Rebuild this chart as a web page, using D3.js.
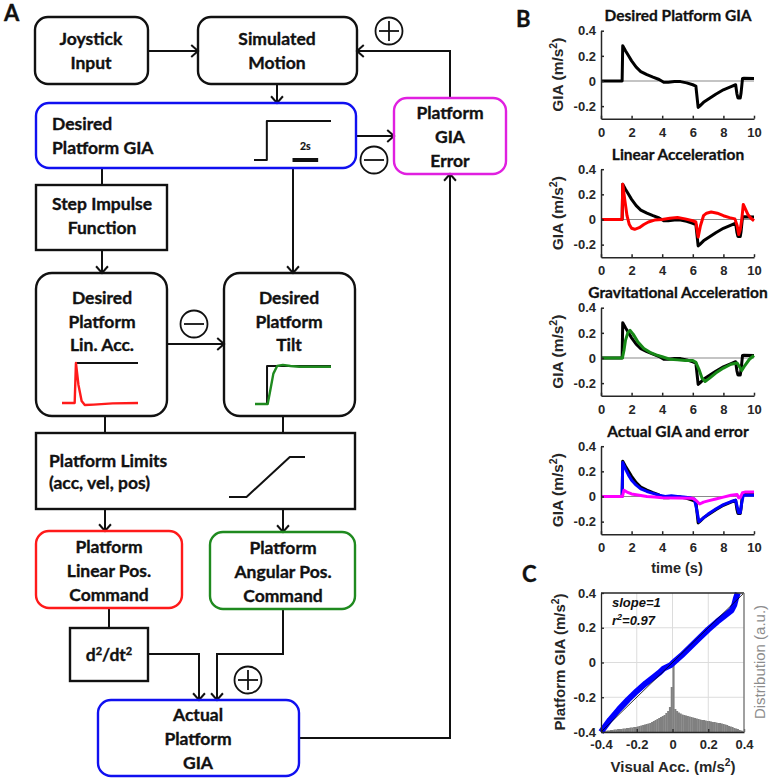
<!DOCTYPE html>
<html><head><meta charset="utf-8">
<script src="https://cdn.jsdelivr.net/npm/d3@7"></script>
<style>body{margin:0;background:#fff}svg{display:block}</style>
</head><body>
<svg id="c" width="771" height="779"></svg>
<script>
// ---------- DATA ----------
// Panel B time series (time in s, GIA in m/s^2)
const desiredT = [0,1.38,1.42,1.6,1.8,2.0,2.3,2.6,3.0,3.4,3.8,4.1,4.4,4.8,5.2,5.6,6.0,6.2,6.35,6.45,6.7,7.0,7.5,8.0,8.5,8.8,8.88,8.95,9.1,9.15,9.25,9.35,10];
const desiredV = [0,0,0.28,0.24,0.20,0.16,0.11,0.075,0.05,0.03,0.012,-0.01,-0.01,-0.005,-0.005,-0.015,-0.03,-0.04,-0.21,-0.2,-0.17,-0.145,-0.105,-0.07,-0.045,-0.03,-0.1,-0.135,-0.135,-0.1,0.02,0.022,0.02];
const linAccT = [0,1.38,1.42,1.55,1.7,1.85,2.0,2.2,2.5,2.8,3.1,3.5,4.0,4.5,5.0,5.5,6.0,6.2,6.35,6.5,6.7,6.9,7.2,7.6,8.0,8.4,8.75,8.9,9.0,9.1,9.2,9.3,9.45,9.6,9.8,10];
const linAccV = [0,0,0.28,0.16,0.03,-0.04,-0.07,-0.078,-0.065,-0.04,-0.02,-0.005,0,0.01,0.015,0.005,-0.01,-0.02,-0.14,-0.05,0.03,0.05,0.06,0.05,0.03,0.015,0.005,-0.05,-0.12,-0.08,0.0,0.12,0.08,0.04,0.01,-0.01];
const gravT = [0,1.4,1.5,1.6,1.75,1.9,2.1,2.4,2.8,3.2,3.6,4.0,4.5,5.0,5.5,6.0,6.2,6.4,6.6,6.8,7.1,7.5,8.0,8.5,8.9,9.05,9.2,9.4,9.7,10];
const gravV = [0,0,0.06,0.14,0.2,0.22,0.19,0.13,0.075,0.045,0.025,0.01,-0.01,-0.015,-0.02,-0.02,-0.035,-0.09,-0.16,-0.187,-0.16,-0.12,-0.08,-0.05,-0.04,-0.07,-0.1,-0.06,-0.01,0.02];
const actualT = [0,1.38,1.42,1.6,1.8,2.0,2.3,2.6,3.0,3.4,3.8,4.2,4.6,5.0,5.4,5.8,6.1,6.25,6.4,6.6,7.0,7.5,8.0,8.5,8.8,8.9,9.0,9.1,9.2,9.3,9.5,10];
const actualV = [0,0,0.27,0.22,0.17,0.13,0.09,0.06,0.04,0.025,0.01,0.0,0.005,0.0,-0.005,-0.01,-0.02,-0.1,-0.2,-0.18,-0.14,-0.1,-0.065,-0.04,-0.03,-0.08,-0.13,-0.13,-0.05,0.01,0.01,0.01];
const errorT = [0,1.4,1.5,1.7,2.0,2.5,3.0,3.5,4.0,5.0,6.0,6.2,6.45,6.7,7.0,7.5,8.0,8.5,8.9,9.0,9.1,9.25,9.4,10];
const errorV = [0,0,0.05,0.035,0.02,0.01,0.0,-0.005,-0.01,-0.012,-0.015,-0.03,-0.06,-0.045,-0.035,-0.02,-0.005,0.01,0.015,-0.01,-0.01,0.03,0.035,0.035];
const plotTitles = ["Desired Platform GIA","Linear Acceleration","Gravitational Acceleration","Actual GIA and error"];
const timeTicks = [0,2,4,6,8,10];
const giaTicks = [-0.2,0,0.2,0.4];

// Panel C
const visAccX = [-0.4,-0.35,-0.3,-0.25,-0.2,-0.15,-0.1,-0.07,-0.05,-0.03,-0.01,0,0.05,0.1,0.15,0.2,0.25,0.3,0.33,0.345,0.355,0.365];
const platGiaY = [-0.4,-0.33,-0.27,-0.215,-0.165,-0.12,-0.08,-0.055,-0.035,-0.025,-0.015,-0.005,0.04,0.09,0.14,0.19,0.235,0.275,0.3,0.33,0.37,0.4];
const histStart = -0.4, histBinWidth = 0.01;
const histCounts = [0.5,1,1,1.5,1.5,2,2,2.5,2.5,3, 3,3,3.5,3.5,4,4,4.5,4.5,5,5,
  5.5,6,6.5,7,7.5,8,8.5,9,10,11, 12,13,14,15,16,17,19,21,25,45,
  67,23,21,19.5,18.5,17.5,17,16.5,16,15.5, 15,14.5,14,13.5,13,12.5,12,12,11.5,11,
  11,10.5,10,10,9.5,9,9,8.5,8,7.5, 7,6,5.5,5,4,3.5,3,2,1.5,1];
const cTicks = [-0.4,-0.2,0,0.2,0.4];

// Schematic insets in block diagram
const stepInsetT = [0,1,1,6], stepInsetV = [0,0,1,1];
const linInsetBlackT = [1.1,6], linInsetBlackV = [1,1];
const linInsetRedT = [0,1.0,1.1,1.3,1.55,1.8,2.5,4,6], linInsetRedV = [0,0,1,0.45,0.05,-0.05,-0.04,-0.01,0];
const tiltInsetBlackT = [0,0.95,0.95,6], tiltInsetBlackV = [0,0,1,1];
const tiltInsetGreenT = [0,1.0,1.2,1.45,1.75,2.2,2.8,3.5,6], tiltInsetGreenV = [0,0,0.35,0.8,1.0,1.03,1.0,0.98,0.98];
const limitX = [0,0.23,0.8,1], limitY = [0,0,1,1];

// ---------- DRAW ----------
const svg = d3.select("#c");
const BF = "Lato, 'Open Sans', sans-serif";
const AF = "'Liberation Sans', Arial, sans-serif";
const BLUE = "#1010f0", MAG = "#e020e0", RED = "#ff1a1a", GREEN = "#1f8a1f";

const gA = svg.append("g");
function btext(g){
  return g.append("text").attr("font-family",BF).attr("font-weight","bold").attr("fill","#111")
    .attr("stroke","#111").attr("stroke-width",0.35);
}
function box(x,y,w,h,r,color,lines,cx,ly,anchor){
  gA.append("rect").attr("x",x).attr("y",y).attr("width",w).attr("height",h)
    .attr("rx",r).attr("ry",r).attr("fill","none").attr("stroke",color).attr("stroke-width",2.4);
  lines.forEach((t,i)=>{
    btext(gA).attr("x",cx).attr("y",ly[i]).attr("dy","0.35em")
      .attr("text-anchor",anchor||"middle").attr("font-size",17.5).text(t);
  });
}
function conn(pts,arrow){
  gA.append("path").attr("d",d3.line()(pts)).attr("fill","none").attr("stroke","#111").attr("stroke-width",2);
  if(arrow){
    const [x1,y1]=pts[pts.length-2],[x2,y2]=pts[pts.length-1];
    const a=Math.atan2(y2-y1,x2-x1), L=9, s=0.72;
    const p1=[x2-L*Math.cos(a-s),y2-L*Math.sin(a-s)], p2=[x2-L*Math.cos(a+s),y2-L*Math.sin(a+s)];
    gA.append("path").attr("d",d3.line()([p1,[x2,y2],p2])).attr("fill","none").attr("stroke","#111").attr("stroke-width",2);
  }
}
function sign(cx,cy,plus){
  gA.append("circle").attr("cx",cx).attr("cy",cy).attr("r",13.5).attr("fill","#fff").attr("stroke","#111").attr("stroke-width",1.8);
  gA.append("line").attr("x1",cx-10).attr("x2",cx+10).attr("y1",cy).attr("y2",cy).attr("stroke","#111").attr("stroke-width",1.8);
  if(plus) gA.append("line").attr("x1",cx).attr("x2",cx).attr("y1",cy-10).attr("y2",cy+10).attr("stroke","#111").attr("stroke-width",1.8);
}

// connections
conn([[148,51],[198,51]],true);
conn([[277,84],[277,103]],true);
conn([[450,98],[450,51],[357,51]],true);
conn([[356,136],[394,136]],true);
conn([[102,168],[102,185]],false);
conn([[102,250],[102,273]],true);
conn([[293,168],[293,273]],true);
conn([[167,344],[224,344]],true);
conn([[105,416],[105,433]],false);
conn([[283,416],[283,433]],false);
conn([[105,509],[105,531]],true);
conn([[283,509],[283,532]],true);
conn([[109,608],[109,628]],false);
conn([[148,654],[199,654],[199,700]],true);
conn([[283,609],[283,654],[217,654],[217,700]],true);
conn([[299,738],[450,738],[450,174]],true);

// boxes
box(35,17,113,67,13,"#111",["Joystick","Input"],91,[39,63]);
box(198,17,159,67,13,"#111",["Simulated","Motion"],277,[39,63]);
box(36,103,320,65,13,BLUE,["Desired","Platform GIA"],52,[124,148],"start");
box(394,98,112,76,13,MAG,["Platform","GIA","Error"],450,[113,137,161]);
box(36,185,131,65,0,"#111",["Step Impulse","Function"],102,[204,228]);
box(36,273,131,143,16,"#111",["Desired","Platform","Lin. Acc."],102,[298,322,345]);
box(224,273,131,143,16,"#111",["Desired","Platform","Tilt"],289,[298,322,345]);
box(36,433,319,76,0,"#111",["Platform Limits","(acc, vel, pos)"],49,[461,483],"start");
box(36,531,146,77,13,RED,["Platform","Linear Pos.","Command"],109,[547,571,595]);
box(210,532,145,77,13,GREEN,["Platform","Angular Pos.","Command"],283,[548,572,596]);
box(70,628,78,53,0,"#111",[],109,[]);
box(98,700,201,76,13,BLUE,["Actual","Platform","GIA"],198,[715,739,763]);
// d2/dt2
const dt = btext(gA).attr("x",109).attr("y",655).attr("dy","0.35em").attr("text-anchor","middle").attr("font-size",17.5);
dt.append("tspan").text("d");
dt.append("tspan").attr("font-size",11).attr("dy",-6).text("2");
dt.append("tspan").attr("dy",6).text("/dt");
dt.append("tspan").attr("font-size",11).attr("dy",-6).text("2");

sign(389,31,true); sign(374,160,false); sign(194,324,false); sign(248,680,true);

// insets
function inset(xs,ys,xd,xr,yd,yr,color,w){
  const sx=d3.scaleLinear(xd,xr), sy=d3.scaleLinear(yd,yr);
  gA.append("path").attr("d",d3.line().x((d,i)=>sx(xs[i])).y((d,i)=>sy(ys[i]))(xs))
    .attr("fill","none").attr("stroke",color).attr("stroke-width",w).attr("stroke-linejoin","round");
  return sx;
}
const sxStep = inset(stepInsetT,stepInsetV,[0,6],[254,331],[0,1],[160,121],"#111",2);
gA.append("line").attr("x1",sxStep(3)).attr("x2",sxStep(5)).attr("y1",160).attr("y2",160).attr("stroke","#111").attr("stroke-width",4);
btext(gA).attr("x",sxStep(4)).attr("y",150).attr("text-anchor","middle").attr("stroke-width",0.2)
  .attr("font-size",10.5).text("2s");
inset(linInsetBlackT,linInsetBlackV,[0,6],[62,138],[0,1],[403,363],"#111",2);
inset(linInsetRedT,linInsetRedV,[0,6],[62,138],[0,1],[403,363],RED,2.4);
inset(tiltInsetBlackT,tiltInsetBlackV,[0,6],[255,331],[0,1],[404,366],"#111",2);
inset(tiltInsetGreenT,tiltInsetGreenV,[0,6],[255,331],[0,1],[404,366],GREEN,2.4);
inset(limitX,limitY,[0,1],[229,305],[0,1],[497,457],"#111",2);

// panel letters
[["A",4,21],["B",516,27],["C",522,582]].forEach(([t,x,y])=>{
  btext(svg).attr("x",x).attr("y",y).attr("font-size",22).text(t);
});

// ---------- PANEL B ----------
const xB = d3.scaleLinear([0,10],[601,754]);
const seriesSets = [
  [[desiredT,desiredV,"#000"]],
  [[desiredT,desiredV,"#000"],[linAccT,linAccV,"#ff0000"]],
  [[desiredT,desiredV,"#000"],[gravT,gravV,"#178a17"]],
  [[desiredT,desiredV,"#000"],[actualT,actualV,"#0000ff"],[errorT,errorV,"#ff00ff"]]
];
function supLabel(g,x,y,rot,pre,post,size,fill,weight){
  const t=g.append("text").attr("transform",`translate(${x},${y}) rotate(${rot})`).attr("text-anchor","middle")
    .attr("font-family",AF).attr("font-weight",weight||"bold").attr("font-size",size).attr("fill",fill||"#262626");
  t.append("tspan").text(pre);
  t.append("tspan").attr("font-size",size*0.68).attr("dy",-size*0.4).text("2");
  t.append("tspan").attr("dy",size*0.4).text(post);
}
for(let k=0;k<4;k++){
  const y0 = 81 + 138.5*k;
  const yB = d3.scaleLinear([-0.3,0.4],[y0+37.7,y0-50.3]);
  const g = svg.append("g");
  g.append("line").attr("x1",xB(0)).attr("x2",xB(10)).attr("y1",yB(0)).attr("y2",yB(0)).attr("stroke","#8a8a8a").attr("stroke-width",1.2);
  seriesSets[k].forEach(([ts,vs,col])=>{
    g.append("path").attr("d",d3.line().x((d,i)=>xB(ts[i])).y((d,i)=>yB(vs[i]))(ts))
      .attr("fill","none").attr("stroke",col).attr("stroke-width",3).attr("stroke-linejoin","round");
  });
  const ax = g.append("g").attr("transform",`translate(0,${yB(-0.3)})`)
    .call(d3.axisBottom(xB).tickValues(timeTicks).tickSizeInner(-3).tickSizeOuter(0).tickPadding(9).tickFormat(d=>String(d)));
  const ay = g.append("g").attr("transform",`translate(${xB(0)},0)`)
    .call(d3.axisLeft(yB).tickValues(giaTicks).tickSizeInner(-3).tickSizeOuter(0).tickPadding(5).tickFormat(d=>String(d)));
  [ax,ay].forEach(a=>{
    a.selectAll("text").attr("font-family",AF).attr("font-weight","bold").attr("font-size",13).attr("fill","#262626");
    a.selectAll("path,line").attr("stroke","#262626").attr("stroke-width",1.5);
  });
  supLabel(g,563,(yB(0.4)+yB(-0.3))/2,-90,"GIA (m/s",")",15.5);
  btext(g).attr("x",678).attr("y",y0-60).attr("text-anchor","middle").attr("stroke-width",0.3)
    .attr("font-size",15.5).text(plotTitles[k]);
}
svg.append("text").attr("x",677).attr("y",573).attr("text-anchor","middle").attr("font-family",AF)
  .attr("font-weight","bold").attr("font-size",14.5).attr("fill","#262626").text("time (s)");

// ---------- PANEL C ----------
const xC = d3.scaleLinear([-0.4,0.4],[601,744]);
const yC = d3.scaleLinear([-0.4,0.4],[732,593]);
const yD = d3.scaleLinear([0,139],[732,593]);
const gC = svg.append("g");
cTicks.slice(1,-1).forEach(v=>{
  gC.append("line").attr("x1",xC(v)).attr("x2",xC(v)).attr("y1",yC(-0.4)).attr("y2",yC(0.4)).attr("stroke","#dcdcdc").attr("stroke-width",1);
  gC.append("line").attr("y1",yC(v)).attr("y2",yC(v)).attr("x1",xC(-0.4)).attr("x2",xC(0.4)).attr("stroke","#dcdcdc").attr("stroke-width",1);
});
gC.selectAll("rect.h").data(histCounts).join("rect").attr("class","h")
  .attr("x",(d,i)=>xC(histStart+i*histBinWidth)).attr("width",(d,i)=>xC(histStart+(i+1)*histBinWidth)-xC(histStart+i*histBinWidth)+0.3)
  .attr("y",d=>yD(d)).attr("height",d=>yD(0)-yD(d)).attr("fill","#808080");
gC.append("path").attr("d",d3.line().x((d,i)=>xC(visAccX[i])).y((d,i)=>yC(platGiaY[i]))(visAccX))
  .attr("fill","none").attr("stroke","#0000ff").attr("stroke-width",6).attr("stroke-linejoin","round");
gC.append("line").attr("x1",xC(-0.4)).attr("y1",yC(-0.4)).attr("x2",xC(0.4)).attr("y2",yC(0.4)).attr("stroke","#000").attr("stroke-width",0.8);
const cx = gC.append("g").attr("transform",`translate(0,${yC(-0.4)})`)
  .call(d3.axisBottom(xC).tickValues(cTicks).tickSizeInner(-3).tickSizeOuter(0).tickPadding(8).tickFormat(d=>String(d)));
const cy = gC.append("g").attr("transform",`translate(${xC(-0.4)},0)`)
  .call(d3.axisLeft(yC).tickValues(cTicks).tickSizeInner(-3).tickSizeOuter(0).tickPadding(5).tickFormat(d=>String(d)));
[cx,cy].forEach(a=>{
  a.selectAll("text").attr("font-family",AF).attr("font-weight","bold").attr("font-size",13).attr("fill","#262626");
  a.selectAll("path,line").attr("stroke","#262626").attr("stroke-width",1.3);
});
gC.append("line").attr("x1",xC(-0.4)).attr("x2",xC(0.4)).attr("y1",yC(0.4)).attr("y2",yC(0.4)).attr("stroke","#262626").attr("stroke-width",1.3);
gC.append("line").attr("x1",xC(0.4)).attr("x2",xC(0.4)).attr("y1",yC(-0.4)).attr("y2",yC(0.4)).attr("stroke","#808080").attr("stroke-width",1.5);
gC.append("text").attr("x",612).attr("y",607).attr("font-family",AF).attr("font-weight","bold").attr("font-style","italic")
  .attr("font-size",13).attr("fill","#111").text("slope=1");
const r2 = gC.append("text").attr("x",612).attr("y",625).attr("font-family",AF).attr("font-weight","bold").attr("font-style","italic")
  .attr("font-size",13).attr("fill","#111");
r2.append("tspan").text("r");
r2.append("tspan").attr("font-size",9).attr("dy",-5).text("2");
r2.append("tspan").attr("dy",5).text("=0.97");
supLabel(gC,565,662,-90,"Platform GIA (m/s",")",15);
supLabel(gC,673,772,0,"Visual Acc. (m/s",")",15);
gC.append("text").attr("transform","translate(765,662) rotate(-90)").attr("text-anchor","middle")
  .attr("font-family",AF).attr("font-size",15).attr("fill","#8c8c8c").text("Distribution (a.u.)");
</script>
</body></html>
